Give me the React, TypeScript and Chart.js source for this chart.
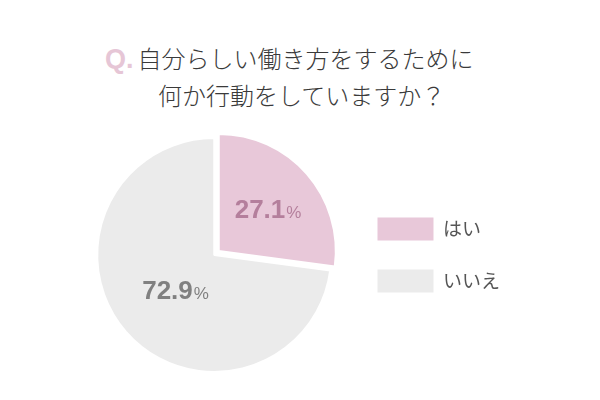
import React, { useEffect, useRef } from 'react';
import { Chart, registerables } from 'chart.js';

Chart.register(...registerables);

const categories = ['はい', 'いいえ'];
const values = [27.1, 72.9];
const sliceColors = ['#e8c8d9', '#ebebeb'];
const labelColors = ['#b47f9c', '#808080'];
const sliceOffsets = [24, 0];
const labelRadii = [0.56, 0.44];
const titleLines = ['自分らしい働き方をするために', '何か行動をしていますか？'];

const NUM_FONT = '"Liberation Sans", Arial, Helvetica, sans-serif';
const JP_FONT = '"Noto Sans CJK JP", "Noto Sans", sans-serif';

const sliceLabelPlugin = {
  id: 'sliceLabels',
  afterDatasetsDraw(chart: any) {
    const ctx = chart.ctx;
    const meta = chart.getDatasetMeta(0);
    meta.data.forEach((arc: any, i: number) => {
      const { x, y, startAngle, endAngle, outerRadius } = arc.getProps(
        ['x', 'y', 'startAngle', 'endAngle', 'outerRadius'],
        true
      );
      const mid = (startAngle + endAngle) / 2;
      // Chart.js translates an offset arc by offset / 4 along its mid-angle
      const r = outerRadius * labelRadii[i] + sliceOffsets[i] / 4;
      const px = x + Math.cos(mid) * r;
      const py = y + Math.sin(mid) * r;
      const num = values[i].toFixed(1);
      ctx.save();
      ctx.textBaseline = 'alphabetic';
      ctx.textAlign = 'left';
      ctx.font = `bold 26px ${NUM_FONT}`;
      const w1 = ctx.measureText(num).width;
      ctx.font = `17px ${NUM_FONT}`;
      const w2 = ctx.measureText('%').width;
      const left = px - (w1 + w2 + 1) / 2;
      const base = py + 10;
      ctx.fillStyle = labelColors[i];
      ctx.font = `bold 26px ${NUM_FONT}`;
      ctx.fillText(num, left, base);
      ctx.font = `17px ${NUM_FONT}`;
      ctx.fillText('%', left + w1 + 1, base);
      ctx.restore();
    });
  },
};

function PieChart() {
  const ref = useRef<HTMLCanvasElement | null>(null);
  useEffect(() => {
    if (!ref.current) return;
    const chart = new Chart(ref.current, {
      type: 'pie',
      data: {
        labels: categories,
        datasets: [
          {
            data: values,
            backgroundColor: sliceColors,
            borderColor: '#ffffff',
            borderWidth: 2,
            offset: sliceOffsets,
            hoverOffset: 0,
          },
        ],
      },
      options: {
        responsive: true,
        maintainAspectRatio: false,
        animation: false,
        layout: { padding: 0 },
        plugins: {
          tooltip: { enabled: false },
          legend: {
            position: 'right',
            align: 'center',
            labels: {
              boxWidth: 56,
              boxHeight: 23,
              padding: 29,
              color: '#555555',
              font: { family: JP_FONT, size: 19 },
              generateLabels: (c: any) =>
                c.data.labels.map((label: string, i: number) => ({
                  text: label,
                  fillStyle: sliceColors[i],
                  strokeStyle: sliceColors[i],
                  lineWidth: 0,
                  fontColor: '#555555',
                  hidden: false,
                  index: i,
                })),
            },
          },
        },
      },
      plugins: [sliceLabelPlugin],
    } as any);
    return () => chart.destroy();
  }, []);
  return <canvas ref={ref} />;
}

export default function App() {
  return (
    <div
      style={{
        position: 'fixed',
        left: 0,
        top: 0,
        width: 600,
        height: 400,
        background: '#ffffff',
        overflow: 'hidden',
      }}
    >
      <div
        style={{
          position: 'absolute',
          left: 105,
          top: 44,
          whiteSpace: 'nowrap',
          lineHeight: '28px',
          color: '#3a3a3a',
          fontFamily: JP_FONT,
          fontWeight: 300,
          fontSize: 24,
        }}
      >
        <span
          style={{
            fontFamily: NUM_FONT,
            fontWeight: 700,
            fontSize: 27,
            color: '#e6c6d6',
            marginRight: 4,
          }}
        >
          Q.
        </span>
        <span>{titleLines[0]}</span>
      </div>
      <div
        style={{
          position: 'absolute',
          left: 158,
          top: 81,
          whiteSpace: 'nowrap',
          lineHeight: '28px',
          color: '#3a3a3a',
          fontFamily: JP_FONT,
          fontWeight: 300,
          fontSize: 24,
        }}
      >
        {titleLines[1]}
      </div>
      <div style={{ position: 'absolute', left: 80, top: 125, width: 430, height: 260 }}>
        <PieChart />
      </div>
    </div>
  );
}
